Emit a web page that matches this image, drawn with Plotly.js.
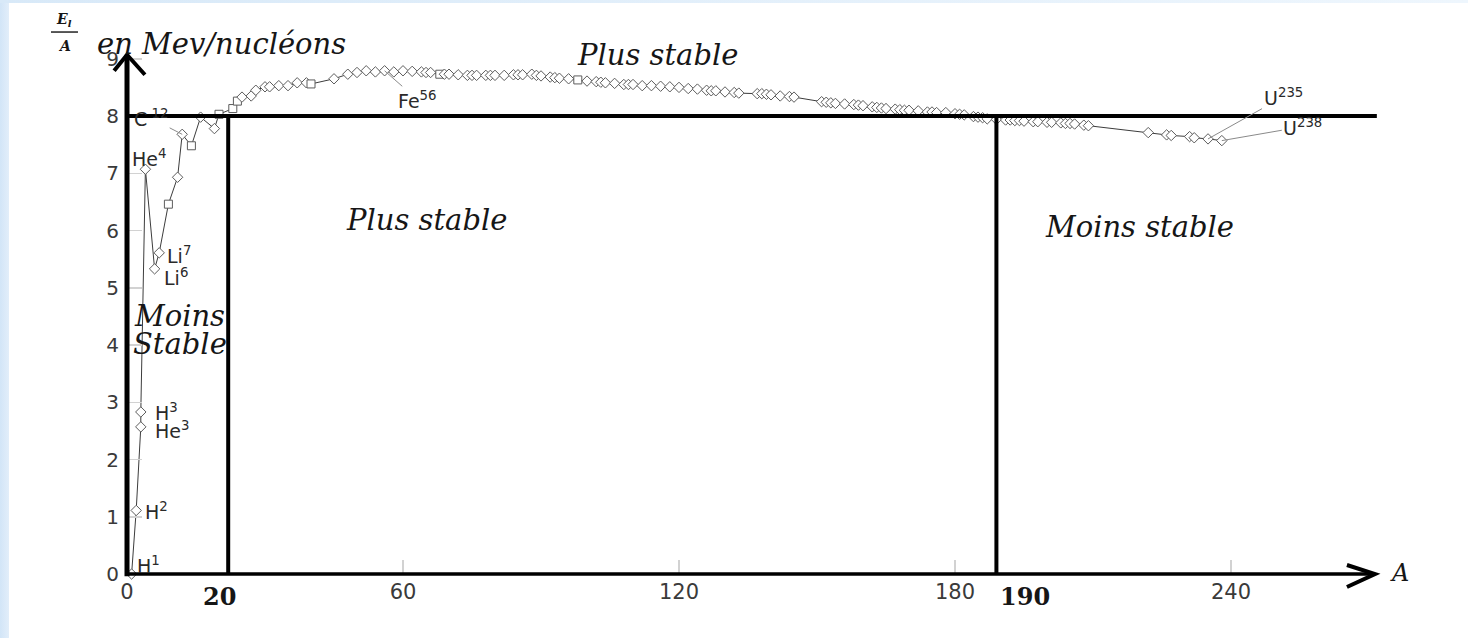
<!DOCTYPE html>
<html><head><meta charset="utf-8">
<script src="https://cdn.plot.ly/plotly-3.0.1.min.js"></script>
<style>
html,body{margin:0;padding:0;background:#fff;width:1468px;height:638px;overflow:hidden;}
#leftband{position:absolute;left:0;top:0;width:9px;height:638px;background:linear-gradient(to right,#d2e5f7,#e2eefa);}
#topband{position:absolute;left:0;top:0;width:1468px;height:3px;background:linear-gradient(to right,#d8e9f8,#eef6fd);}
#chart{position:absolute;left:0;top:0;width:1468px;height:638px;}
</style></head><body>
<div id="leftband"></div><div id="topband"></div><div id="chart"></div>
<script>
// Mass number A of each nuclide plotted
const massNumbers = [
  1,2,3,3,4,6,7,9,11,12,
  14,16,19,20,23,24,25,27,28,30,
  31,33,35,37,39,40,45,48,50,52,
  54,56,58,60,62,64,65,66,68,69,
  70,72,74,75,76,78,79,80,82,84,
  85,86,88,89,90,92,93,94,96,98,
  100,102,103,104,106,108,109,110,112,114,
  116,118,120,122,124,126,127,128,130,132,
  133,137,138,139,140,142,144,145,151,152,
  153,154,156,158,159,160,162,163,164,165,
  167,168,169,170,172,174,175,176,178,180,
  181,182,184,185,186,187,189,191,192,193,
  194,195,197,198,200,201,203,204,205,206,
  208,209,222,226,227,231,232,235,238
];
// Binding energy per nucleon El/A (MeV/nucleon)
const bindingPerNucleon = [
  0,1.11,2.57,2.83,7.07,5.33,5.61,6.46,6.93,7.68,
  7.48,7.98,7.78,8.03,8.13,8.26,8.33,8.35,8.45,8.51,
  8.51,8.53,8.53,8.58,8.58,8.56,8.65,8.73,8.76,8.79,
  8.77,8.79,8.77,8.79,8.78,8.77,8.76,8.76,8.73,8.73,
  8.73,8.72,8.71,8.71,8.71,8.71,8.71,8.71,8.71,8.72,
  8.72,8.72,8.73,8.71,8.70,8.68,8.67,8.66,8.65,8.63,
  8.61,8.60,8.59,8.58,8.57,8.55,8.55,8.55,8.53,8.53,
  8.52,8.51,8.50,8.48,8.47,8.45,8.44,8.44,8.42,8.41,
  8.40,8.39,8.39,8.38,8.37,8.35,8.34,8.33,8.25,8.24,
  8.23,8.22,8.21,8.20,8.19,8.18,8.16,8.15,8.14,8.13,
  8.12,8.11,8.10,8.10,8.09,8.07,8.07,8.06,8.06,8.04,
  8.03,8.02,7.99,7.98,7.97,7.95,7.94,7.93,7.93,7.92,
  7.92,7.91,7.90,7.90,7.89,7.89,7.88,7.87,7.87,7.86,
  7.84,7.83,7.71,7.67,7.66,7.64,7.62,7.60,7.57
];
// nuclides drawn with square markers
const squareMasses = [9,14,20,23,24,40,68,98];

// labelled nuclides
const labelTexts  = ['H<sup>1</sup>','H<sup>2</sup>','He<sup>3</sup>','H<sup>3</sup>','He<sup>4</sup>','Li<sup>6</sup>','Li<sup>7</sup>'];
const labelMass   = [1,2,3,3,4,6,7];
const labelEnergy = [0,1.11,2.57,2.83,7.07,5.33,5.61];
const leaderTexts  = ['C<sup> 12</sup>','Fe<sup>56</sup>','U<sup>235</sup>','U<sup>238</sup>'];
const leaderMass   = [12,56,235,238];
const leaderEnergy = [7.68,8.79,7.60,7.57];

const xTickValues = [0,60,120,180,240];
const yTickValues = [0,1,2,3,4,5,6,7,8,9];
const boundaryMass = [22,189];
const boundaryLabels = ['20','190'];
const stabilityLimit = 8;
const regionTexts = ['Plus stable','Plus stable','Moins stable','Moins','Stable'];
const regionA = [115.4,65.2,220,11.5,11.5];
const regionE = [9.07,6.18,6.06,4.51,4.02];

// ---------- styling / layout ----------
const xRange = [-8.043, 285.43];
const yRange = [-0.6288, 9.5022];
const yAxisPos = (0 - xRange[0]) / (xRange[1] - xRange[0]);
const xAxisPos = (0 - yRange[0]) / (yRange[1] - yRange[0]);
const serif = 'DejaVu Serif, Liberation Serif, serif';
const sans = 'DejaVu Sans, Verdana, sans-serif';
const ink = '#161616';

const symbols = massNumbers.map(a => squareMasses.includes(a) ? 'square' : 'diamond');

const curve = {
  x: massNumbers, y: bindingPerNucleon, type: 'scatter', mode: 'lines+markers',
  line: {color: '#3c3c3c', width: 1},
  marker: {symbol: symbols, size: 8, color: '#ffffff', line: {color: '#5c5c5c', width: 1}},
  cliponaxis: false, hoverinfo: 'skip', showlegend: false
};

const axisArrowTipY = 9.07, axisArrowTipX = 271.3;
const shapes = [];
const thick = (x0,y0,x1,y1,w) => ({type:'line', xref:'x', yref:'y', x0, y0, x1, y1, layer:'above', line:{color:'#000', width:w}});
// stability limit line
shapes.push(thick(0, stabilityLimit, 271.7, stabilityLimit, 4));
// boundaries
boundaryMass.forEach(a => shapes.push(thick(a, 0, a, stabilityLimit, 4)));
// axes
shapes.push(thick(0, -0.04, 0, axisArrowTipY, 5));
shapes.push(thick(0, 0, axisArrowTipX, 0, 3.5));
shapes.push({type:'path', xref:'x', yref:'y', layer:'above',
  path:`M -2.8 8.79 L 0 ${axisArrowTipY} L 3.9 8.72`, line:{color:'#000', width:4}});
shapes.push({type:'path', xref:'x', yref:'y', layer:'above',
  path:`M 265.2 0.157 L ${axisArrowTipX} 0 L 265.2 -0.227`, line:{color:'#000', width:4}});
// fraction bar of El/A
shapes.push({type:'line', xref:'paper', yref:'paper', x0:-0.0289, x1:-0.0089, y0:0.9965, y1:0.9965, line:{color:'#222', width:1.5}});

const annotations = [];
const labelShift = [[3,9],[7,-1],[12,-3],[12,0],[-15,11],[7,-8],[6,-2]];
labelTexts.forEach((t,i) => annotations.push({
  x: labelMass[i], y: labelEnergy[i], xref:'x', yref:'y', text: t, showarrow:false,
  xanchor:'left', yanchor:'middle', xshift: labelShift[i][0], yshift: labelShift[i][1],
  font:{family: sans, size: 19, color:'#2a2a2a'}
}));
const leaderOffset = [[-31,-16],[33,29],[75,-42],[81,-14]];
leaderTexts.forEach((t,i) => annotations.push({
  x: leaderMass[i], y: leaderEnergy[i], xref:'x', yref:'y', text: t, showarrow:true,
  arrowhead:0, arrowwidth:1, arrowcolor:'#8a8a8a', standoff:0,
  ax: leaderOffset[i][0], ay: leaderOffset[i][1],
  font:{family: sans, size: 19, color:'#2a2a2a'}
}));
regionTexts.forEach((t,i) => annotations.push({
  x: regionA[i], y: regionE[i], xref:'x', yref:'y', text: t, showarrow:false,
  xanchor:'center', yanchor:'middle',
  font:{family: serif, size: 29, style:'italic', color: ink}
}));
// boundary labels on the A axis
annotations.push({x: 20, y: -0.40, xref:'x', yref:'y', text: boundaryLabels[0], showarrow:false,
  xanchor:'center', yanchor:'middle', font:{family: serif, size: 24, weight: 700, color: ink}});
annotations.push({x: boundaryMass[1], y: -0.40, xref:'x', yref:'y', text: boundaryLabels[1], showarrow:false,
  xanchor:'left', yanchor:'middle', xshift: 2, font:{family: serif, size: 24, weight: 700, color: ink}});
// axis titles
annotations.push({x: 276.7, y: 0.02, xref:'x', yref:'y', text:'A', showarrow:false,
  xanchor:'center', yanchor:'middle', font:{family: serif, size: 24, style:'italic', color: ink}});
annotations.push({x: 0.004, y: 0.976, xref:'paper', yref:'paper', text:'en Mev/nucléons', showarrow:false,
  xanchor:'left', yanchor:'middle', font:{family: serif, size: 29, style:'italic', color: ink}});
annotations.push({x: -0.019, y: 1.018, xref:'paper', yref:'paper', text:'<b><i>E<sub>l</sub></i></b>', showarrow:false,
  xanchor:'center', yanchor:'middle', font:{family: serif, size: 14, color: ink}});
annotations.push({x: -0.019, y: 0.972, xref:'paper', yref:'paper', text:'<b><i>A</i></b>', showarrow:false,
  xanchor:'center', yanchor:'middle', font:{family: serif, size: 14, color: ink}});

const layout = {
  width: 1468, height: 638,
  margin: {l: 90, r: 28, t: 30, b: 28},
  paper_bgcolor: 'rgba(0,0,0,0)', plot_bgcolor: 'rgba(0,0,0,0)',
  xaxis: {range: xRange, anchor: 'free', position: xAxisPos, tickvals: xTickValues,
    ticks: 'inside', ticklen: 14, tickwidth: 1.5, tickcolor: '#d2d2d2',
    showgrid: false, zeroline: false, showline: false,
    tickfont: {family: sans, size: 21, color: '#3a3a3a'}, ticklabelstandoff: 3},
  yaxis: {range: yRange, anchor: 'free', position: yAxisPos, tickvals: yTickValues,
    ticks: 'inside', ticklen: 14, tickwidth: 1.5, tickcolor: '#d2d2d2',
    showgrid: false, zeroline: false, showline: false,
    tickfont: {family: sans, size: 20, color: '#3a3a3a'}, ticklabelstandoff: 8},
  shapes, annotations, showlegend: false
};
Plotly.newPlot('chart', [curve], layout, {displayModeBar: false, staticPlot: true});
</script>
</body></html>
